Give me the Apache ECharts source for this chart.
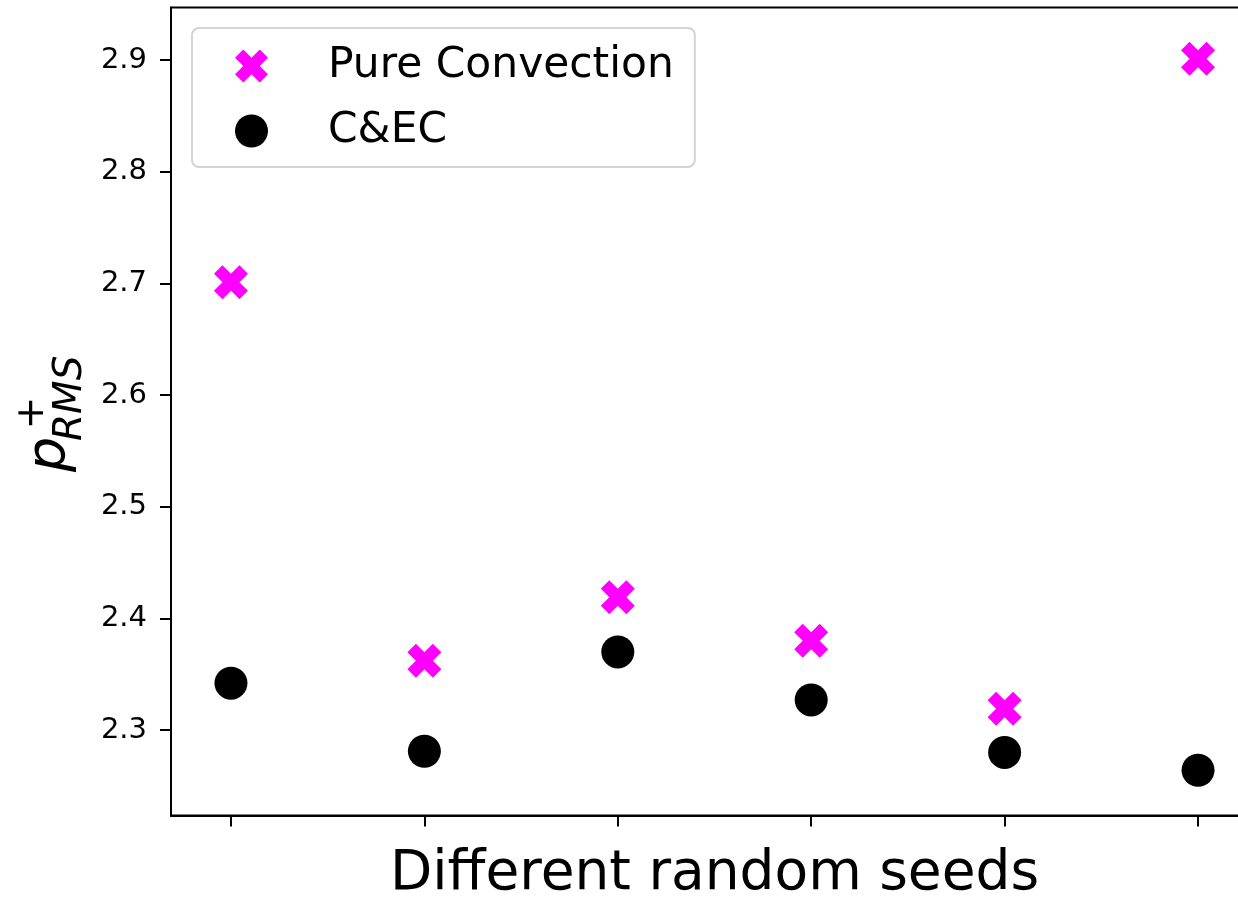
<!DOCTYPE html>
<html>
<head>
<meta charset="utf-8">
<script src="https://cdn.jsdelivr.net/npm/echarts@6/dist/echarts.min.js"></script>
<style>
  html, body { margin: 0; padding: 0; background: #fff; }
  #main { width: 1238px; height: 898px; }
</style>
</head>
<body>
<div id="main"></div>
<script>
// seed positions along x
var seeds = [1, 2, 3, 4, 5, 6];
// p+_RMS values
var pureConvection = [2.701, 2.362, 2.419, 2.380, 2.319, 2.901];
var cec = [2.342, 2.281, 2.370, 2.327, 2.280, 2.264];
var yTicks = [2.3, 2.4, 2.5, 2.6, 2.7, 2.8, 2.9];

// filled "X" marker like matplotlib's 'X'
var xMarker = 'path://M0,-1L-1,-2L-2,-1L-1,0L-2,1L-1,2L0,1L1,2L2,1L1,0L2,-1L1,-2Z';
var font = 'DejaVu Sans';

var chart = echarts.init(document.getElementById('main'));

function pairs(xs, ys) {
  return xs.map(function (x, i) { return [x, ys[i]]; });
}

var option = {
  backgroundColor: '#fff',
  animation: false,
  grid: {
    left: 171,
    top: 7.5,
    bottom: 82.5,
    right: -20,
    outerBoundsMode: 'none',
    containLabel: false,
    show: true,
    borderColor: '#000',
    borderWidth: 2
  },
  legend: {
    left: 192,
    top: 28,
    orient: 'vertical',
    itemWidth: 33,
    itemHeight: 33,
    itemGap: 23,
    padding: [17, 21, 15, 43],
    backgroundColor: 'rgba(255,255,255,0.8)',
    borderColor: '#d4d4d4',
    borderWidth: 2,
    borderRadius: 7,
    textStyle: {
      fontFamily: font,
      fontSize: 42.4,
      color: '#000',
      padding: [0, 0, 0, 55]
    },
    data: [
      { name: 'Pure Convection', icon: xMarker },
      { name: 'C&EC', icon: 'circle' }
    ]
  },
  xAxis: {
    type: 'value',
    min: 0.69,
    max: 6.31,
    name: 'Different random seeds',
    nameLocation: 'middle',
    nameGap: 32,
    nameTextStyle: { fontFamily: font, fontSize: 55, color: '#000' },
    axisLine: { show: true, lineStyle: { color: '#000', width: 2 } },
    axisTick: {
      show: true,
      length: 11,
      lineStyle: { color: '#000', width: 2 },
      customValues: seeds
    },
    axisLabel: { show: false },
    splitLine: { show: false }
  },
  yAxis: {
    type: 'value',
    min: 2.2235,
    max: 2.947,
    axisLine: { show: true, lineStyle: { color: '#000', width: 2 } },
    axisTick: {
      show: true,
      length: 11,
      lineStyle: { color: '#000', width: 2 },
      customValues: yTicks
    },
    axisLabel: {
      customValues: yTicks,
      margin: 24,
      fontFamily: font,
      fontSize: 29,
      color: '#000',
      formatter: function (v) { return v.toFixed(1); }
    },
    splitLine: { show: false }
  },
  graphic: [
    {
      type: 'text', x: 50.5, y: 472, rotation: Math.PI / 2,
      style: { text: 'p', fontFamily: font, fontStyle: 'italic', fontSize: 55.6,
        fill: '#000', align: 'left', verticalAlign: 'middle' }
    },
    {
      type: 'text', x: 70.4, y: 441, rotation: Math.PI / 2,
      style: { text: 'RMS', fontFamily: font, fontStyle: 'italic', fontSize: 39,
        fill: '#000', align: 'left', verticalAlign: 'middle' }
    },
    {
      type: 'text', x: 33, y: 413, rotation: Math.PI / 2,
      style: { text: '+', fontFamily: font, fontSize: 39,
        fill: '#000', align: 'center', verticalAlign: 'middle' }
    }
  ],
  series: [
    {
      name: 'Pure Convection',
      type: 'scatter',
      symbol: xMarker,
      symbolSize: 34,
      itemStyle: { color: '#ff00ff', opacity: 1 },
      data: pairs(seeds, pureConvection)
    },
    {
      name: 'C&EC',
      type: 'scatter',
      symbol: 'circle',
      symbolSize: 33,
      itemStyle: { color: '#000', opacity: 1 },
      data: pairs(seeds, cec)
    }
  ]
};

chart.setOption(option);
</script>
</body>
</html>
